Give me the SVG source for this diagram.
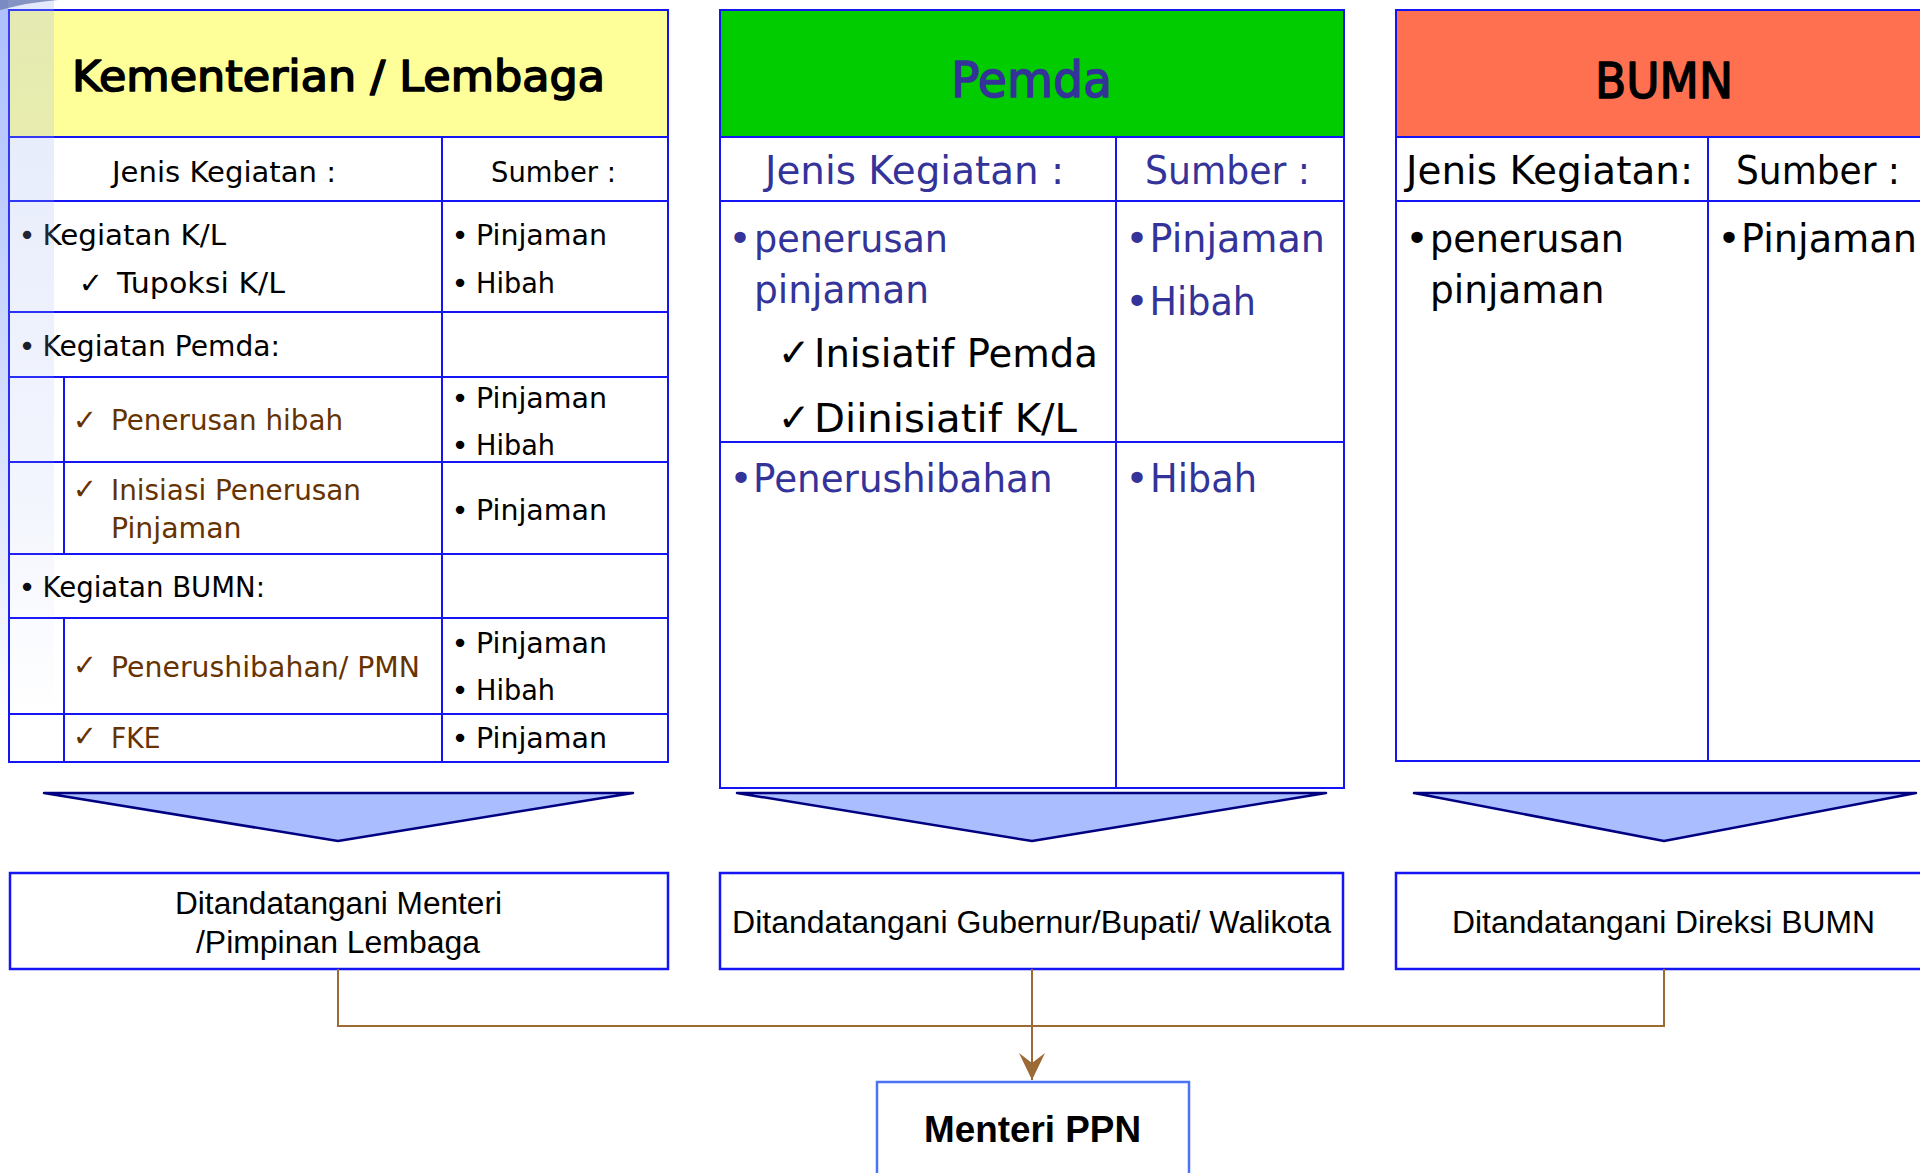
<svg xmlns="http://www.w3.org/2000/svg" width="1920" height="1173" viewBox="0 0 1920 1173">
<style>
.grid{fill:none;stroke:#1414F5;stroke-width:2}
.t{font-family:"DejaVu Sans","Noto Sans",sans-serif}
.a{font-family:"Liberation Sans",Arial,sans-serif}
.s29{font-size:29px}
.s39{font-size:39px}
.k{fill:#000}
.br{fill:#663300}
.pb{fill:#333399}
.h{font-weight:bold}
.hd{stroke-width:1.6;stroke-linejoin:round}
.tri{fill:#AABEFF;stroke:#000080;stroke-width:2.5;stroke-linejoin:round}
.sig{fill:#fff;stroke:#1414F5;stroke-width:2.5}
.conn{fill:none;stroke:#9C6A35;stroke-width:2}
</style>
<defs>
<linearGradient id="lg" x1="0" y1="0" x2="0" y2="1">
<stop offset="0" stop-color="#9DB2F2" stop-opacity="0.28"/>
<stop offset="0.7" stop-color="#9DB2F2" stop-opacity="0.12"/>
<stop offset="1" stop-color="#9DB2F2" stop-opacity="0"/>
</linearGradient>
<linearGradient id="lg2" x1="0" y1="0" x2="0" y2="1">
<stop offset="0" stop-color="#A8BCFF" stop-opacity="0.9"/>
<stop offset="1" stop-color="#A8BCFF" stop-opacity="0"/>
</linearGradient>
<marker id="arr" markerUnits="userSpaceOnUse" markerWidth="32" markerHeight="32" viewBox="-30 -16 32 32" refX="0" refY="0" orient="auto">
<path d="M0,0 L-27,-13 L-17,0 L-27,13 Z" fill="#9C6A35"/>
</marker>
</defs>
<rect x="0" y="0" width="1920" height="1173" fill="#fff"/>

<g id="node-kl">
<rect x="9" y="10" width="659" height="127" fill="#FFFF99"/>
<rect x="9" y="137" width="659" height="625" fill="#fff"/>
<path class="grid" d="M9,10H668V762H9Z M9,137H668 M9,201H668 M9,312H668 M9,377H668 M9,462H668 M9,554H668 M9,618H668 M9,714H668 M442,137V762 M64,377V554 M64,618V762"/>
<text class="t hd k" stroke="#000" x="72" y="91" font-size="42" textLength="533" lengthAdjust="spacingAndGlyphs">Kementerian / Lembaga</text>
<g class="t s29 k">
<text x="112" y="182" textLength="224" lengthAdjust="spacingAndGlyphs">Jenis Kegiatan :</text>
<text x="491" y="182" textLength="125" lengthAdjust="spacingAndGlyphs">Sumber :</text>
<text x="27" y="245" text-anchor="middle">•</text>
<text x="42.5" y="245" textLength="183.5" lengthAdjust="spacingAndGlyphs">Kegiatan K/L</text>
<text x="91" y="293" text-anchor="middle">✓</text>
<text x="117" y="293" textLength="168" lengthAdjust="spacingAndGlyphs">Tupoksi K/L</text>
<text x="460" y="245" text-anchor="middle">•</text>
<text x="476" y="245" textLength="131" lengthAdjust="spacingAndGlyphs">Pinjaman</text>
<text x="460" y="293" text-anchor="middle">•</text>
<text x="476" y="293" textLength="79" lengthAdjust="spacingAndGlyphs">Hibah</text>
<text x="27" y="356" text-anchor="middle">•</text>
<text x="42.5" y="356" textLength="237.5" lengthAdjust="spacingAndGlyphs">Kegiatan Pemda:</text>
<text x="460" y="408" text-anchor="middle">•</text>
<text x="476" y="408" textLength="131" lengthAdjust="spacingAndGlyphs">Pinjaman</text>
<text x="460" y="455" text-anchor="middle">•</text>
<text x="476" y="455" textLength="79" lengthAdjust="spacingAndGlyphs">Hibah</text>
<text x="460" y="520" text-anchor="middle">•</text>
<text x="476" y="520" textLength="131" lengthAdjust="spacingAndGlyphs">Pinjaman</text>
<text x="27" y="597" text-anchor="middle">•</text>
<text x="42.5" y="597" textLength="222.5" lengthAdjust="spacingAndGlyphs">Kegiatan BUMN:</text>
<text x="460" y="653" text-anchor="middle">•</text>
<text x="476" y="653" textLength="131" lengthAdjust="spacingAndGlyphs">Pinjaman</text>
<text x="460" y="700" text-anchor="middle">•</text>
<text x="476" y="700" textLength="79" lengthAdjust="spacingAndGlyphs">Hibah</text>
<text x="460" y="748" text-anchor="middle">•</text>
<text x="476" y="748" textLength="131" lengthAdjust="spacingAndGlyphs">Pinjaman</text>
</g>
<g class="t s29 br">
<text x="85" y="430" text-anchor="middle">✓</text>
<text x="111" y="430" textLength="232" lengthAdjust="spacingAndGlyphs">Penerusan hibah</text>
<text x="85" y="499" text-anchor="middle">✓</text>
<text x="111" y="500" textLength="250" lengthAdjust="spacingAndGlyphs">Inisiasi Penerusan</text>
<text x="111" y="538" textLength="130.5" lengthAdjust="spacingAndGlyphs">Pinjaman</text>
<text x="85" y="675" text-anchor="middle">✓</text>
<text x="111" y="677" textLength="309" lengthAdjust="spacingAndGlyphs">Penerushibahan/ PMN</text>
<text x="85" y="746" text-anchor="middle">✓</text>
<text x="111" y="748" textLength="49.5" lengthAdjust="spacingAndGlyphs">FKE</text>
</g>
</g>

<g id="node-pemda">
<rect x="720" y="10" width="624" height="127" fill="#00CC00"/>
<rect x="720" y="137" width="624" height="651" fill="#fff"/>
<path class="grid" d="M720,10H1344V788H720Z M720,137H1344 M720,201H1344 M720,442H1344 M1116,137V788"/>
<text class="t hd pb" stroke="#333399" x="951" y="97" font-size="50" textLength="161" lengthAdjust="spacingAndGlyphs">Pemda</text>
<g class="t s39 pb">
<text x="765" y="184" textLength="299" lengthAdjust="spacingAndGlyphs">Jenis Kegiatan :</text>
<text x="1145" y="184" textLength="165" lengthAdjust="spacingAndGlyphs">Sumber :</text>
<text x="740" y="252" text-anchor="middle">•</text>
<text x="754" y="252" textLength="194" lengthAdjust="spacingAndGlyphs">penerusan</text>
<text x="754" y="303" textLength="175" lengthAdjust="spacingAndGlyphs">pinjaman</text>
<text x="1137" y="252" text-anchor="middle">•</text>
<text x="1149.5" y="252" textLength="175.5" lengthAdjust="spacingAndGlyphs">Pinjaman</text>
<text x="1137" y="315" text-anchor="middle">•</text>
<text x="1149.5" y="315" textLength="106.5" lengthAdjust="spacingAndGlyphs">Hibah</text>
<text x="741" y="492" text-anchor="middle">•</text>
<text x="753" y="492" textLength="299.5" lengthAdjust="spacingAndGlyphs">Penerushibahan</text>
<text x="1137" y="492" text-anchor="middle">•</text>
<text x="1150" y="492" textLength="107" lengthAdjust="spacingAndGlyphs">Hibah</text>
</g>
<g class="t s39 k">
<text x="794" y="366" text-anchor="middle" font-weight="bold">✓</text>
<text x="814" y="367" textLength="284" lengthAdjust="spacingAndGlyphs">Inisiatif Pemda</text>
<text x="794" y="431" text-anchor="middle" font-weight="bold">✓</text>
<text x="814" y="432" textLength="263" lengthAdjust="spacingAndGlyphs">Diinisiatif K/L</text>
</g>
</g>

<g id="node-bumn">
<rect x="1396" y="10" width="534" height="127" fill="#FF7050"/>
<rect x="1396" y="137" width="534" height="624" fill="#fff"/>
<path class="grid" d="M1930,10H1396V761H1930 M1396,137H1930 M1396,201H1930 M1708,137V761"/>
<text class="t hd k" stroke="#000" x="1595" y="98" font-size="50" textLength="138" lengthAdjust="spacingAndGlyphs">BUMN</text>
<g class="t s39 k">
<text x="1406" y="184" textLength="287" lengthAdjust="spacingAndGlyphs">Jenis Kegiatan:</text>
<text x="1736" y="184" textLength="164" lengthAdjust="spacingAndGlyphs">Sumber :</text>
<text x="1417" y="252" text-anchor="middle">•</text>
<text x="1430" y="252" textLength="194" lengthAdjust="spacingAndGlyphs">penerusan</text>
<text x="1430" y="303" textLength="174.5" lengthAdjust="spacingAndGlyphs">pinjaman</text>
<text x="1729" y="252" text-anchor="middle">•</text>
<text x="1741" y="252" textLength="176" lengthAdjust="spacingAndGlyphs">Pinjaman</text>
</g>
</g>

<g id="decor">
<rect x="0" y="0" width="54" height="720" fill="url(#lg)"/>
<rect x="0" y="0" width="8" height="720" fill="url(#lg2)"/>
<path d="M0,0 H58 Q30,2 0,10 Z" fill="#6B7DB3" opacity="0.8"/>
</g>

<g id="arrow-kl"><polygon class="tri" points="44,793 633,793 338,841"/></g>
<g id="arrow-pemda"><polygon class="tri" points="737,793 1326,793 1032,841"/></g>
<g id="arrow-bumn"><polygon class="tri" points="1414,793 1916,793 1664,841"/></g>

<g id="sig-kl">
<rect class="sig" x="10" y="873" width="658" height="96"/>
<text class="a k" font-size="31" x="175" y="914" textLength="327" lengthAdjust="spacingAndGlyphs">Ditandatangani Menteri</text>
<text class="a k" font-size="31" x="196" y="953" textLength="284" lengthAdjust="spacingAndGlyphs">/Pimpinan Lembaga</text>
</g>
<g id="sig-pemda">
<rect class="sig" x="720" y="873" width="623" height="96"/>
<text class="a k" font-size="31" x="732" y="933" textLength="599" lengthAdjust="spacingAndGlyphs">Ditandatangani Gubernur/Bupati/ Walikota</text>
</g>
<g id="sig-bumn">
<rect class="sig" x="1396" y="873" width="540" height="96"/>
<text class="a k" font-size="31" x="1452" y="933" textLength="423" lengthAdjust="spacingAndGlyphs">Ditandatangani Direksi BUMN</text>
</g>

<g id="connectors">
<path class="conn" stroke-width="3" d="M338,969 V1026 H1664 V969"/>
<path class="conn" d="M1032,969 V1080" marker-end="url(#arr)"/>
</g>

<g id="node-ppn">
<rect x="877" y="1082" width="312" height="110" fill="#fff" stroke="#4A74F5" stroke-width="2.5"/>
<text class="a k h" font-size="36" x="924" y="1142" textLength="217" lengthAdjust="spacingAndGlyphs">Menteri PPN</text>
</g>
</svg>
